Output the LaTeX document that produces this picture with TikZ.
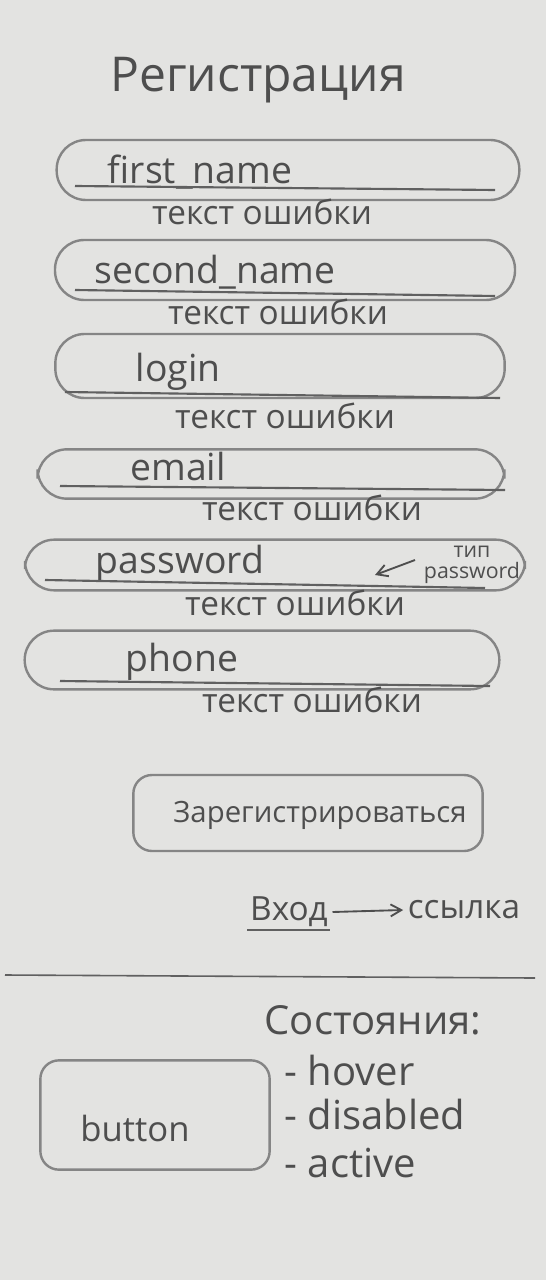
\documentclass[tikz,border=0pt]{standalone}
\usepackage{fontspec}
\setmainfont{Open Sans}
\usetikzlibrary{arrows.meta}
\definecolor{paper}{HTML}{E3E3E1}
\definecolor{pencil}{HTML}{858585}
\definecolor{ink}{HTML}{4E4E4E}
\tikzset{
  pill/.style={draw=pencil, line width=1.8pt, rounded corners=22pt, inner sep=0pt},
  box/.style={draw=pencil, line width=1.8pt, rounded corners=14pt, inner sep=0pt},
  uline/.style={draw=ink!90, line width=1.6pt},
  title/.style={text=ink, font=\fontsize{36}{40}\selectfont},
  label/.style={text=ink, font=\fontsize{28}{32}\selectfont},
  errtext/.style={text=ink, font=\fontsize{25}{29}\selectfont},
  note/.style={text=ink, font=\fontsize{16}{16}\selectfont, align=center, inner sep=1pt},
  item/.style={text=ink, font=\fontsize{30}{34}\selectfont, anchor=west},
  arr/.style={draw=ink, line width=1.4pt, -{Straight Barb[length=8pt,width=9pt]}},
}
\begin{document}
\begin{tikzpicture}[x=0.75pt, y=-0.75pt]
  % paper
  \fill[paper] (0,0) rectangle (546,1280);
  \useasboundingbox (0,0) rectangle (546,1280);

  \node[title] (title) at (258,80) {Регистрация};

  % first_name
  \node[pill, minimum width=347pt, minimum height=45pt] (f1) at (288,170) {};
  \node[label] (l1) at (200,172) {first\_name};
  \draw[uline] (75,186) -- (495,190);
  \node[errtext] (e1) at (262,212) {текст ошибки};

  % second_name
  \node[pill, minimum width=345pt, minimum height=45pt] (f2) at (285,270) {};
  \node[label] (l2) at (215,272) {second\_name};
  \draw[uline] (75,290) -- (495,296);
  \node[errtext] (e2) at (278,312) {текст ошибки};

  % login
  \node[pill, minimum width=337pt, minimum height=48pt] (f3) at (280,366) {};
  \node[label] (l3) at (178,372) {login};
  \draw[uline] (65,392) -- (500,398);
  \node[errtext] (e3) at (285,416) {текст ошибки};

  % email
  \node[pill, minimum width=350pt, minimum height=37pt] (f4) at (271,474) {};
  \node[label] (l4) at (178,466) {email};
  \draw[uline] (60,486) -- (505,490);
  \node[errtext] (e4) at (312,508) {текст ошибки};

  % password
  \node[pill, minimum width=375pt, minimum height=38pt] (f5) at (275,565) {};
  \node[label] (l5) at (180,564) {password};
  \draw[uline] (45,580) -- (485,588);
  \node[errtext] (e5) at (295,603) {текст ошибки};
  \node[note] (pt) at (472,565) {тип\\password};
  \coordinate (pa) at (375,575);
  \coordinate (pb) at (415,560);
  \draw[arr] (pb) -- (pa);

  % phone
  \node[pill, minimum width=356pt, minimum height=44pt] (f6) at (262,660) {};
  \node[label] (l6) at (182,662) {phone};
  \draw[uline] (60,681) -- (490,686);
  \node[errtext] (e6) at (312,700) {текст ошибки};

  % submit button
  \node[box, minimum width=262pt, minimum height=57pt] (submit) at (308,813) {};
  \node[errtext, font=\fontsize{22}{26}\selectfont] (st) at (320,815) {Зарегистрироваться};

  % login link
  \node[label, font=\fontsize{25}{29}\selectfont] (vhod) at (289,912) {Вход};
  \draw[uline] (247,930) -- (330,930);
  \node[label, font=\fontsize{25}{29}\selectfont] (link) at (464,910) {ссылка};
  \draw[arr] (vhod.east) -- (link.west);

  % divider
  \draw[draw=ink!90, line width=1.2pt] (5,975) -- (535,978);

  % states
  \node[item] (states) at (260,1020) {Состояния:};
  \node[item] (s1) at (280,1070) {- hover};
  \node[item] (s2) at (280,1114) {- disabled};
  \node[item] (s3) at (280,1163) {- active};

  % button sample
  \node[box, minimum width=172pt, minimum height=82pt] (btn) at (155,1115) {};
  \node[label, font=\fontsize{26}{30}\selectfont] (bt) at (135,1128) {button};
\end{tikzpicture}
\end{document}
